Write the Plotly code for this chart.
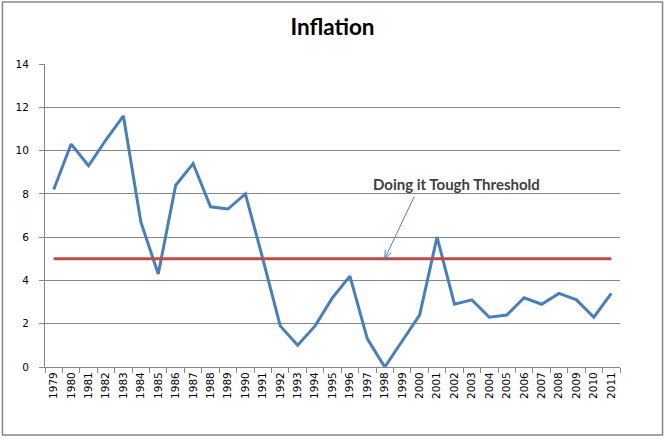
import math
import plotly.graph_objects as go

years = [str(y) for y in range(1979, 2012)]
inflation = [8.2, 10.3, 9.3, 10.5, 11.6, 6.7, 4.3, 8.4, 9.4, 7.4, 7.3, 8.0, 5.0,
             1.9, 1.0, 1.9, 3.2, 4.2, 1.3, 0.0, 1.2, 2.4, 6.0, 2.9, 3.1, 2.3,
             2.4, 3.2, 2.9, 3.4, 3.1, 2.3, 3.4]
threshold = [5] * len(years)
ann_text = "Doing it Tough Threshold"
ann_year = "1998"

W, H = 665, 438
ml, mr, mt, mb = 44.6, 44.6, 64, 71

fig = go.Figure()
fig.add_trace(go.Scatter(x=years, y=inflation, mode="lines",
                         line=dict(color="#4A7EBB", width=3), showlegend=False))
fig.add_trace(go.Scatter(x=years, y=threshold, mode="lines",
                         line=dict(color="#BE4B48", width=3), showlegend=False))

pw = W - ml - mr
ph = H - mt - mb
def px2paper(x, y):
    return (x - ml) / pw, (H - mb - y) / ph

# outer chart border
x0, y0 = px2paper(2, 2)
x1, y1 = px2paper(663, 435)
fig.add_shape(type="rect", xref="paper", yref="paper", x0=x0, y0=y1, x1=x1, y1=y0,
              line=dict(color="#868686", width=1.5), layer="below")

# arrow from label to the threshold line at 1998 (pixel geometry)
head_x = ml + (years.index(ann_year) + 0.5) * pw / len(years)
head_y = H - mb - 5 * ph / 14
tail_x, tail_y = 414.3, 196.7
dx, dy = head_x - tail_x, head_y - tail_y
L = math.hypot(dx, dy)
ux, uy = dx / L, dy / L
arrow_col = "#4A7EBB"
def seg(ax_, ay_, bx_, by_):
    p0 = px2paper(ax_, ay_)
    p1 = px2paper(bx_, by_)
    fig.add_shape(type="line", xref="paper", yref="paper", x0=p0[0], y0=p0[1],
                  x1=p1[0], y1=p1[1], line=dict(color=arrow_col, width=1))
seg(tail_x, tail_y, head_x, head_y)
hl, ang = 9, math.radians(22)
for s in (1, -1):
    c, sn = math.cos(s * ang), math.sin(s * ang)
    bx = -(ux * c - uy * sn)
    by = -(ux * sn + uy * c)
    seg(head_x, head_y, head_x + bx * hl, head_y + by * hl)

tx, ty = px2paper(456.5, 184)
fig.add_annotation(x=tx, y=ty, xref="paper", yref="paper", text="<b>" + ann_text + "</b>",
                   showarrow=False, font=dict(family="Lato", size=15, color="#404040"),
                   xanchor="center", yanchor="middle")

fig.update_layout(
    width=W, height=H,
    margin=dict(l=ml, r=mr, t=mt, b=mb),
    paper_bgcolor="white", plot_bgcolor="white",
    title=dict(text="<b>Inflation</b>", x=0.5, xanchor="center", y=1 - 27 / H, yanchor="middle",
               font=dict(family="Lato", size=22.5, color="black")),
    xaxis=dict(type="category", showgrid=False, showline=True, linecolor="#868686", linewidth=1,
               ticks="outside", tickson="boundaries", ticklen=5, tickcolor="#868686",
               tickangle=-90, tickfont=dict(family="DejaVu Sans", size=10.5, color="black"),
               range=[-0.5, len(years) - 0.5], zeroline=False),
    yaxis=dict(range=[0, 14], dtick=2, showgrid=True, gridcolor="#868686", gridwidth=1,
               showline=True, linecolor="#868686", linewidth=1, ticks="outside", ticklen=5,
               tickcolor="#868686", tickfont=dict(family="DejaVu Sans", size=10.5, color="black"),
               zeroline=False, ticklabelstandoff=8),
)

fig.write_html("out.html", config={"displayModeBar": False},
               post_script="document.body.style.margin='0';document.body.style.overflow='hidden';")
